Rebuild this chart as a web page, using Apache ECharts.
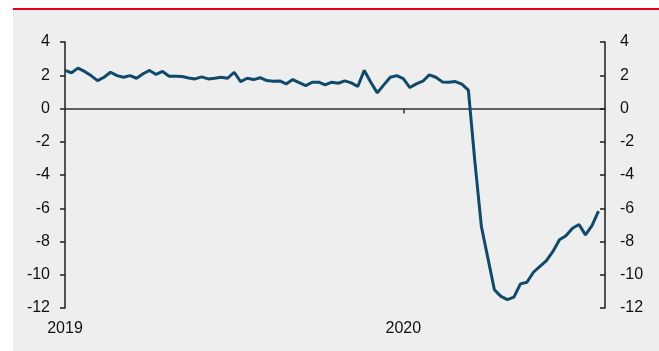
<!DOCTYPE html>
<html>
<head>
<meta charset="utf-8">
<script src="https://cdn.jsdelivr.net/npm/echarts@6/dist/echarts.min.js"></script>
<style>
  body { margin: 0; background: #fff; }
  #wrap { position: relative; width: 659px; height: 351px; overflow: hidden; }
  #panel { position: absolute; left: 13px; top: 8px; right: 0; bottom: 0;
           background: #eeeeee; border-top: 2px solid #e2001a; }
  #chart { position: absolute; left: 0; top: 0; width: 659px; height: 351px; }
</style>
</head>
<body>
<div id="wrap">
  <div id="panel"></div>
  <div id="chart"></div>
</div>
<script>
// weekly readings, first week of 2019 onwards
const values = [
  2.29, 2.15, 2.43, 2.23, 1.98, 1.68, 1.88, 2.18, 1.98, 1.88,
  1.98, 1.82, 2.09, 2.29, 2.05, 2.23, 1.94, 1.94, 1.92, 1.84,
  1.78, 1.90, 1.78, 1.82, 1.88, 1.82, 2.18, 1.62, 1.82, 1.74,
  1.85, 1.68, 1.64, 1.66, 1.48, 1.74, 1.56, 1.38, 1.58, 1.58,
  1.42, 1.58, 1.52, 1.66, 1.54, 1.32, 2.29, 1.58, 0.94, 1.42,
  1.88, 1.98, 1.80, 1.26, 1.48, 1.64, 2.02, 1.88, 1.60, 1.58,
  1.62, 1.46, 1.10, -3.2, -7.1, -9.0, -10.9, -11.3, -11.5, -11.35,
  -10.55, -10.45, -9.85, -9.5, -9.15, -8.6, -7.9, -7.65, -7.2, -6.98,
  -7.6, -7.04, -6.18
];
const years = ['2019', '2020'];
const weeksPerYear = [52, 32];
const yTicks = { min: -12, max: 4, step: 2 };

const categories = [];
years.forEach((y, k) => {
  for (let w = 1; w <= weeksPerYear[k]; w++) categories.push(y + '-W' + w);
});
const yearStart = categories.map(c => c.endsWith('-W1'));

const chart = echarts.init(document.getElementById('chart'));
const font = { fontFamily: 'Liberation Sans, Arial, sans-serif', fontSize: 16, color: '#111' };
const axisColor = '#1e1e1e';

const yAxisBase = {
  type: 'value', min: yTicks.min, max: yTicks.max, interval: yTicks.step,
  axisLine: { show: true, lineStyle: { color: axisColor, width: 1.5 } },
  axisTick: { show: true, length: 5, lineStyle: { color: axisColor, width: 1.5 } },
  splitLine: { show: false },
  axisLabel: Object.assign({ margin: 15 }, font)
};

chart.setOption({
  animation: false,
  grid: { left: 65, right: 54, top: 42, bottom: 43 },
  xAxis: [
    {
      type: 'category', data: categories, boundaryGap: false, position: 'top',
      axisLine: { onZero: true, lineStyle: { color: '#333', width: 1.5 } },
      axisTick: { inside: true, length: 5, interval: i => yearStart[i] && i > 0, lineStyle: { color: '#333', width: 1.5 } },
      axisLabel: { show: false }
    },
    {
      type: 'category', data: categories, boundaryGap: false, position: 'bottom',
      axisLine: { show: false, onZero: false },
      axisTick: { show: false },
      axisLabel: Object.assign({
        margin: 13, interval: i => yearStart[i],
        formatter: v => v.split('-')[0]
      }, font)
    }
  ],
  yAxis: [
    Object.assign({}, yAxisBase, { position: 'left' }),
    Object.assign({}, yAxisBase, { position: 'right',
      axisTick: { show: true, inside: true, length: 5, lineStyle: { color: axisColor, width: 1.5 } } })
  ],
  series: [{
    type: 'line', data: values, xAxisIndex: 1, yAxisIndex: 0,
    symbol: 'none', smooth: false,
    lineStyle: { color: '#0d4a6d', width: 3 }
  }]
});
</script>
</body>
</html>
